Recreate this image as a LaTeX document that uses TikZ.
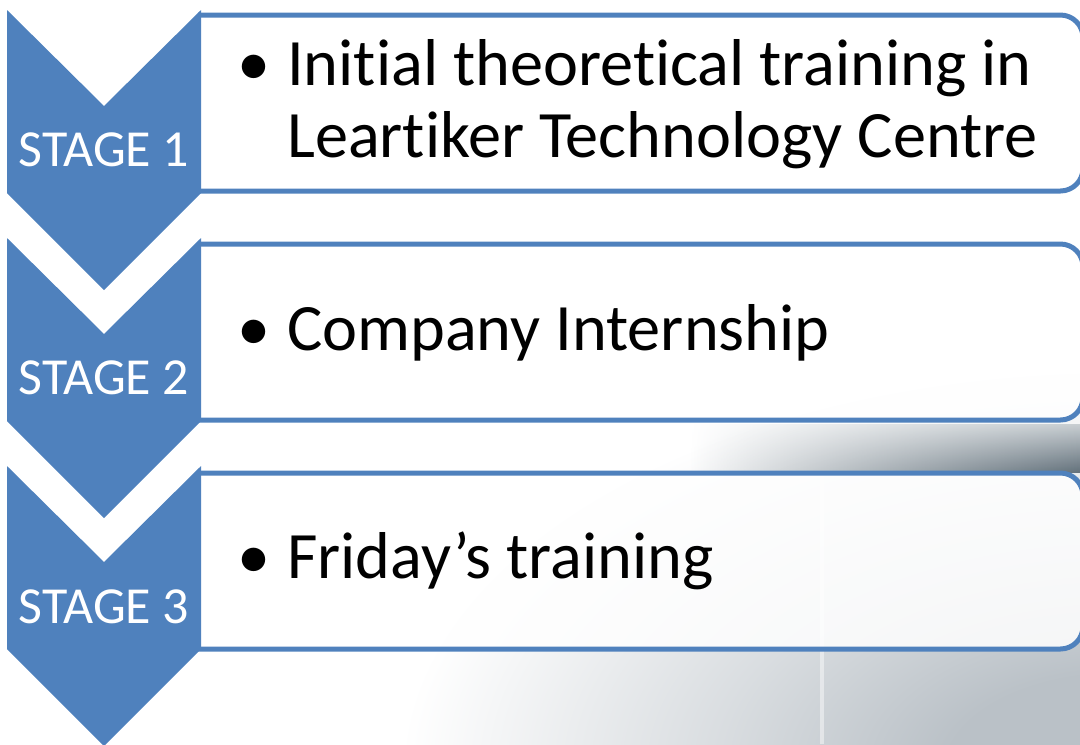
\documentclass[tikz,border=0pt]{standalone}
\usepackage{fontspec}
\setmainfont{Carlito}[Ligatures={NoCommon,NoRare,NoContextual}]
\usetikzlibrary{fadings}
\definecolor{stageblue}{RGB}{79,129,189}
\definecolor{bggray}{RGB}{186,193,199}
\definecolor{bandlight}{RGB}{200,206,210}
\definecolor{banddark}{RGB}{100,114,124}
\tikzfading[name=bandfade, left color=transparent!100, right color=transparent!0]
\pgfdeclareradialshading{bgglow}{\pgfpoint{0bp}{0bp}}{color(0bp)=(bggray); color(6bp)=(bggray); color(14bp)=(bggray!55!white); color(25bp)=(white); color(50bp)=(white)}
\newcommand\nl{\kern0pt }
\begin{document}
\begin{tikzpicture}[x=0.75pt,y=-0.75pt,
  chevron/.style={fill=stageblue},
  stagebox/.style={draw=stageblue, line width=3.75pt, fill=white, fill opacity=0.85,
    rounded corners=17pt, minimum width=692.25pt, minimum height=132pt, inner sep=0pt},
  stagelabel/.style={text=white, font=\fontsize{39}{47}\selectfont, anchor=base, inner sep=0pt},
  itemtext/.style={text=black, font=\fontsize{49.7}{54}\selectfont, anchor=base west, inner sep=0pt},
  bulletdot/.style={text=black, font=\fontsize{49.7}{54}\selectfont, anchor=base, inner sep=0pt}]
\useasboundingbox (0,0) rectangle (1080,744);
% background photo-like shading
\begin{scope}
\clip (0,0) rectangle (1080,744);
\shade[shading=bgglow] (1120,770) ellipse [x radius=720, y radius=400];
\shade[top color=bandlight, bottom color=banddark, path fading=bandfade] (690,424) rectangle (1080,472);
\draw[white, opacity=0.45, line width=2.5pt] (822,472) -- (822,744);
\end{scope}
% boxes
\begin{scope}
\clip (198,0) rectangle (1080,744);
\node[stagebox] (box1) at (621.5,103) {};
\node[stagebox] (box2) at (621.5,332) {};
\node[stagebox] (box3) at (621.5,561) {};
\end{scope}
% chevrons
\fill[chevron] (7,10) -- (104,106) -- (201,10) -- (201,193) -- (104,290) -- (7,193) -- cycle;
\fill[chevron] (7,238) -- (104,334) -- (201,238) -- (201,421) -- (104,518) -- (7,421) -- cycle;
\fill[chevron] (7,466) -- (104,562) -- (201,466) -- (201,649) -- (104,746) -- (7,649) -- cycle;
% labels
\node[stagelabel] (s1) at (104,166) {STAGE 1};
\node[stagelabel] (s2) at (104,394) {STAGE 2};
\node[stagelabel] (s3) at (104,623) {STAGE 3};
% items
\node[bulletdot] (b1) at (254,85) {•};
\node[itemtext] (t1a) at (287,85) {Init\nl ial theoret\nl ical training in};
\node[itemtext] (t1b) at (287,157) {Leart\nl iker Technology Centre};
\node[bulletdot] (b2) at (254,350) {•};
\node[itemtext] (t2) at (287,350) {Company Internship};
\node[bulletdot] (b3) at (254,578) {•};
\node[itemtext] (t3) at (287,578) {Friday’s training};
\end{tikzpicture}
\end{document}
